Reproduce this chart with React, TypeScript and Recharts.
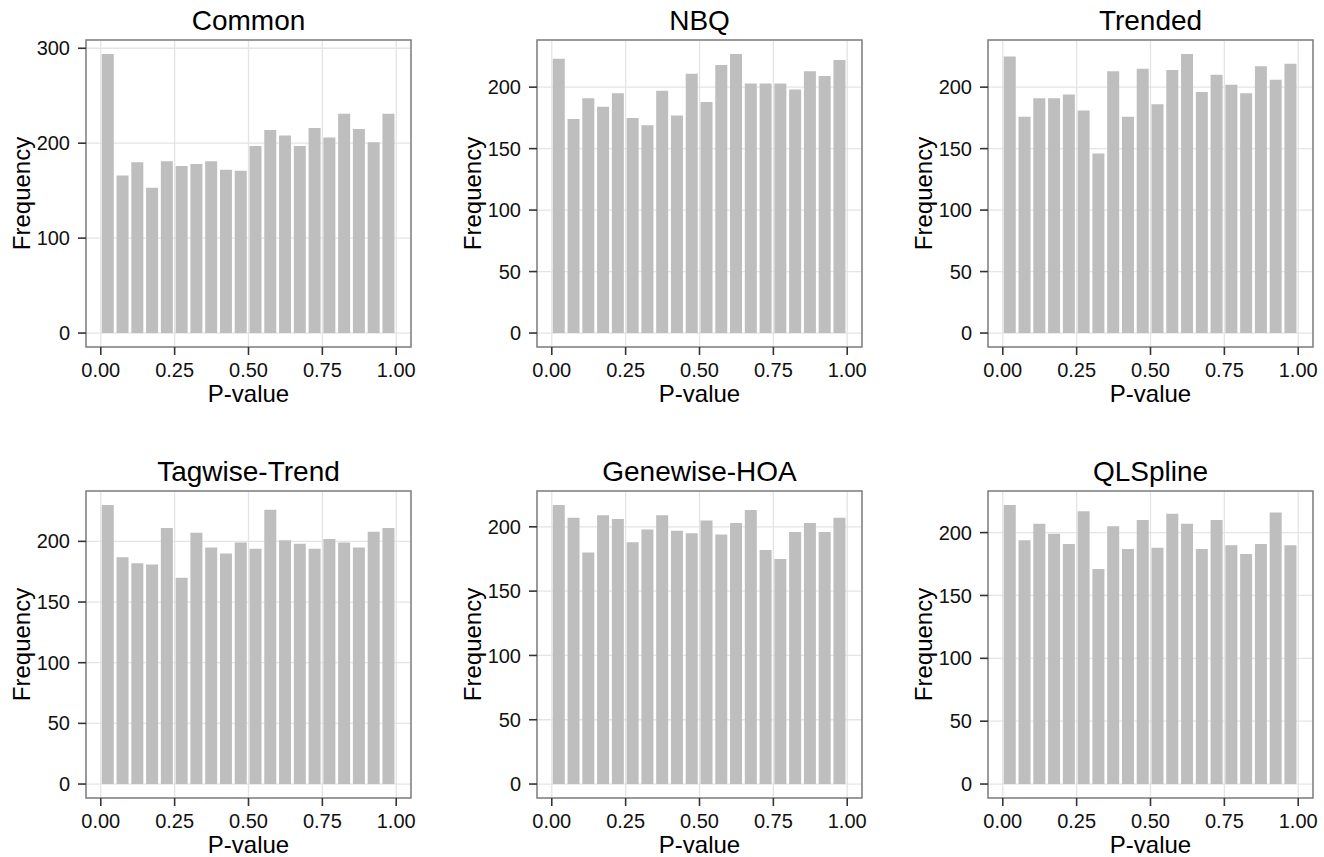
import React from 'react';
import { BarChart, Bar, XAxis, YAxis, CartesianGrid, ReferenceArea, Label } from 'recharts';

const binCenters = [0.025, 0.075, 0.125, 0.175, 0.225, 0.275, 0.325, 0.375, 0.425, 0.475, 0.525, 0.575, 0.625, 0.675, 0.725, 0.775, 0.825, 0.875, 0.925, 0.975];
const xTicks = [0, 0.25, 0.5, 0.75, 1];
const xMinor = [0.125, 0.375, 0.625, 0.875];

const commonValues = [294, 166, 180, 153, 181, 176, 178, 181, 172, 171, 197, 214, 208, 197, 216, 206, 231, 215, 201, 231];
const nbqValues = [223, 174, 191, 184, 195, 175, 169, 197, 177, 211, 188, 218, 227, 203, 203, 203, 198, 213, 209, 222];
const trendedValues = [225, 176, 191, 191, 194, 181, 146, 213, 176, 215, 186, 214, 227, 196, 210, 202, 195, 217, 206, 219];
const tagwiseValues = [230, 187, 182, 181, 211, 170, 207, 195, 190, 199, 194, 226, 201, 198, 194, 202, 199, 195, 208, 211];
const genewiseValues = [217, 207, 180, 209, 206, 188, 198, 209, 197, 195, 205, 194, 203, 213, 182, 175, 196, 203, 196, 207];
const qlsplineValues = [222, 194, 207, 199, 191, 217, 171, 205, 187, 210, 188, 215, 207, 187, 210, 190, 183, 191, 216, 190];

const titles = ['Common', 'NBQ', 'Trended', 'Tagwise-Trend', 'Genewise-HOA', 'QLSpline'];
const ticksHundred = [0, 100, 200, 300];
const minorHundred = [50, 150, 250];
const ticksFifty = [0, 50, 100, 150, 200];
const minorFifty = [25, 75, 125, 175, 225];

const FONT = '"Liberation Sans", Arial, Helvetica, sans-serif';

const panelLefts = [86, 537, 988];
const panelTops = [40, 491];
const PANEL_W = 325;
const PANEL_H = 307;
const Y_AXIS_W = 86;
const X_AXIS_H = 62;
const MARGIN_TOP = 40;
const MARGIN_RIGHT = 10;

interface PanelProps {
  title: string;
  values: number[];
  yTicks: number[];
  yMinor: number[];
  left: number;
  top: number;
}

function Panel({ title, values, yTicks, yMinor, left, top }: PanelProps) {
  const data = binCenters.map((x, i) => ({ x, freq: values[i] }));
  const maxV = Math.max(...values);
  const yMin = -0.05 * maxV;
  const yMax = 1.05 * maxV;
  const width = Y_AXIS_W + PANEL_W + MARGIN_RIGHT;
  const height = MARGIN_TOP + PANEL_H + X_AXIS_H;
  return (
    <>
      <div
        style={{
          position: 'absolute',
          left: left,
          top: top - 33,
          width: PANEL_W,
          textAlign: 'center',
          fontFamily: FONT,
          fontSize: 28,
          lineHeight: '28px',
          color: '#000',
          whiteSpace: 'nowrap',
        }}
      >
        {title}
      </div>
      <div style={{ position: 'absolute', left: left - Y_AXIS_W, top: top - MARGIN_TOP }}>
        <BarChart
          width={width}
          height={height}
          data={data}
          margin={{ top: MARGIN_TOP, right: MARGIN_RIGHT, bottom: 0, left: 0 }}
        >
          <CartesianGrid
            stroke="#f3f3f3"
            strokeWidth={1}
            verticalCoordinatesGenerator={(p: any) =>
              p && p.xAxis && typeof p.xAxis.scale === 'function' ? xMinor.map((v) => p.xAxis.scale(v)) : []
            }
            horizontalCoordinatesGenerator={(p: any) =>
              p && p.yAxis && typeof p.yAxis.scale === 'function' ? yMinor.map((v) => p.yAxis.scale(v)) : []
            }
          />
          <CartesianGrid stroke="#e4e4e4" strokeWidth={1.3} />
          <XAxis
            dataKey="x"
            type="number"
            domain={[-0.05, 1.05]}
            ticks={xTicks}
            tickFormatter={(v: number) => v.toFixed(2)}
            height={X_AXIS_H}
            axisLine={false}
            tickSize={8}
            tickMargin={8}
            tickLine={{ stroke: '#333333', strokeWidth: 1.6 }}
            tick={{ fontSize: 20, fill: '#111', fontFamily: FONT }}
            interval={0}
          >
            <Label
              value="P-value"
              position="insideBottom"
              offset={7}
              style={{ fontSize: 24, fill: '#000', fontFamily: FONT }}
            />
          </XAxis>
          <YAxis
            type="number"
            domain={[yMin, yMax]}
            ticks={yTicks}
            width={Y_AXIS_W}
            axisLine={false}
            tickSize={8}
            tickMargin={8}
            tickLine={{ stroke: '#333333', strokeWidth: 1.6 }}
            tick={{ fontSize: 20, fill: '#111', fontFamily: FONT }}
            interval={0}
          >
            <Label
              value="Frequency"
              angle={-90}
              position="insideLeft"
              offset={21}
              style={{ textAnchor: 'middle', fontSize: 24, fill: '#000', fontFamily: FONT }}
            />
          </YAxis>
          <Bar dataKey="freq" fill="#bebebe" barSize={12} isAnimationActive={false} />
          <ReferenceArea
            x1={-0.05}
            x2={1.05}
            y1={yMin}
            y2={yMax}
            fill="none"
            fillOpacity={0}
            stroke="#808080"
            strokeWidth={1.5}
            ifOverflow="visible"
          />
        </BarChart>
      </div>
    </>
  );
}

export default function App() {
  const series = [commonValues, nbqValues, trendedValues, tagwiseValues, genewiseValues, qlsplineValues];
  return (
    <div style={{ position: 'absolute', left: 0, top: 0, width: 1324, height: 857, background: '#fff' }}>
      {series.map((vals, i) => {
        const row = Math.floor(i / 3);
        const col = i % 3;
        const isCommon = i === 0;
        return (
          <Panel
            key={titles[i]}
            title={titles[i]}
            values={vals}
            yTicks={isCommon ? ticksHundred : ticksFifty}
            yMinor={isCommon ? minorHundred : minorFifty}
            left={panelLefts[col]}
            top={panelTops[row]}
          />
        );
      })}
    </div>
  );
}
